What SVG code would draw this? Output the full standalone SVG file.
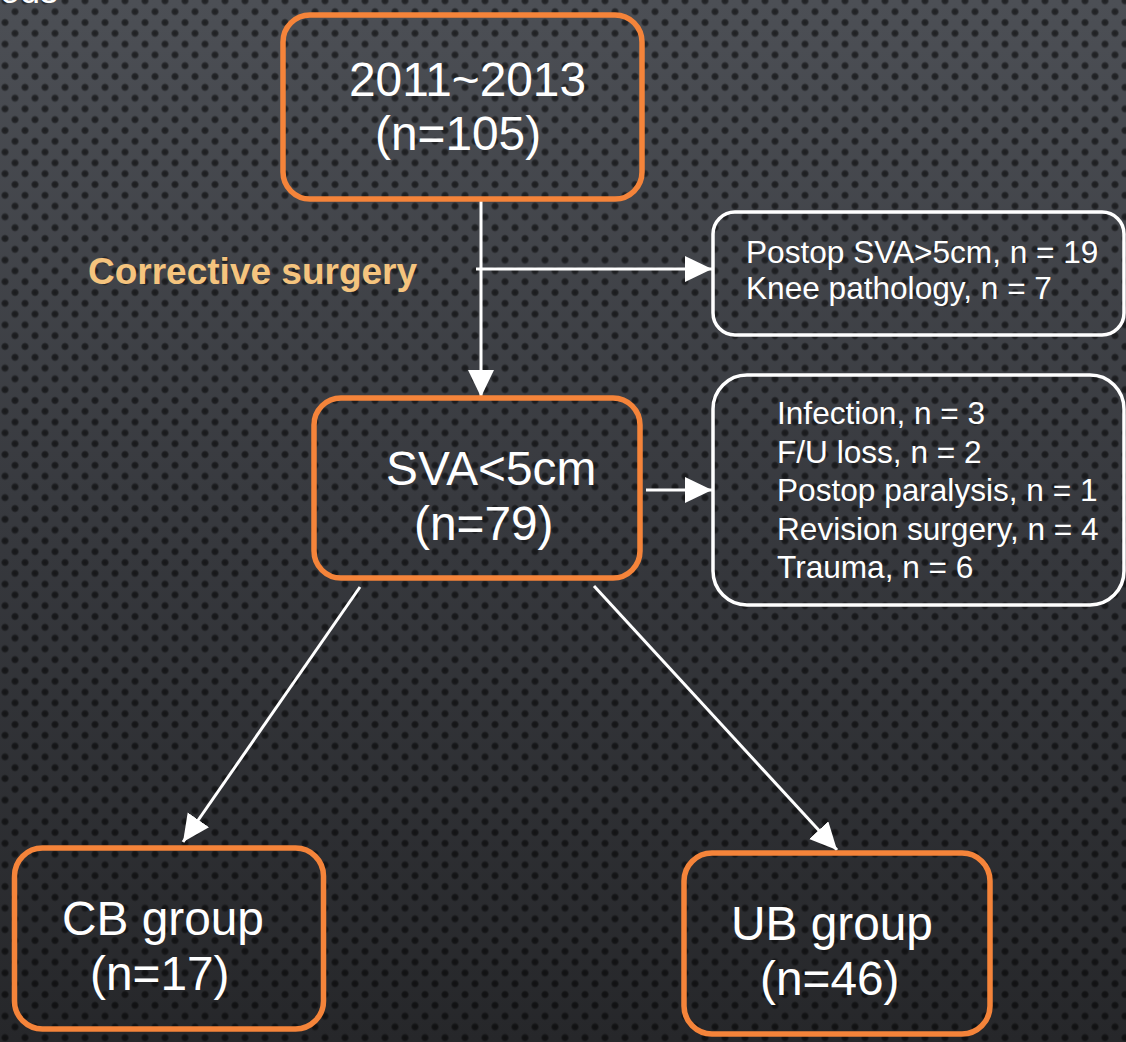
<svg xmlns="http://www.w3.org/2000/svg" width="1126" height="1042" viewBox="0 0 1126 1042">
<defs>
<linearGradient id="bg" x1="0" y1="0" x2="0" y2="1">
<stop offset="0" stop-color="#4c4f55"/>
<stop offset="0.5" stop-color="#37393e"/>
<stop offset="1" stop-color="#26272a"/>
</linearGradient>
<radialGradient id="dotg">
<stop offset="0" stop-color="#000" stop-opacity="0.6"/>
<stop offset="0.6" stop-color="#000" stop-opacity="0.5"/>
<stop offset="1" stop-color="#000" stop-opacity="0"/>
</radialGradient>
<pattern id="dots" patternUnits="userSpaceOnUse" x="0" y="-4.5" width="20" height="21.6">
<circle cx="5" cy="5.4" r="4.3" fill="url(#dotg)"/>
<circle cx="15" cy="16.2" r="4.3" fill="url(#dotg)"/>
<circle cx="5" cy="27" r="4.3" fill="url(#dotg)"/>
<circle cx="5" cy="-5.4" r="4.3" fill="url(#dotg)"/>
</pattern>
<marker id="arr" markerUnits="userSpaceOnUse" markerWidth="28" markerHeight="28" refX="27" refY="13" orient="auto">
<path d="M0,0 L27,13 L0,26 z" fill="#ffffff"/>
</marker>
<style>
.onode{fill:none;stroke:#f5843a;stroke-width:5.5}
.wnode{fill:none;stroke:#ffffff;stroke-width:3.5}
.big{font-family:"Liberation Sans",Arial,sans-serif;font-size:47.8px;fill:#ffffff}
.small{font-family:"Liberation Sans",Arial,sans-serif;font-size:31.6px;fill:#ffffff}
.lbl{font-family:"Liberation Sans",Arial,sans-serif;font-size:37px;font-weight:bold;fill:#f5c47e}
.conn{stroke:#ffffff;stroke-width:3;fill:none}
</style>
</defs>
<rect x="0" y="0" width="1126" height="1042" fill="url(#bg)"/>
<rect x="0" y="0" width="1126" height="1042" fill="url(#dots)"/>
<text x="58" y="3" text-anchor="end" font-family="'Liberation Sans',Arial,sans-serif" font-size="36" fill="#ffffff">Methods</text>

<g id="connectors">
<line class="conn" x1="481" y1="199" x2="481" y2="397" marker-end="url(#arr)"/>
<line class="conn" x1="476" y1="269" x2="712" y2="269" marker-end="url(#arr)"/>
<line class="conn" x1="646" y1="490" x2="712" y2="490" marker-end="url(#arr)"/>
<line class="conn" x1="360" y1="587" x2="183" y2="842" marker-end="url(#arr)"/>
<line class="conn" x1="594" y1="586" x2="837" y2="850" marker-end="url(#arr)"/>
<text class="lbl" x="88" y="284">Corrective surgery</text>
</g>

<g id="n_start">
<rect class="onode" x="283" y="15" width="359" height="184" rx="27"/>
<text class="big" x="349" y="96">2011~2013</text>
<text class="big" x="375" y="150">(n=105)</text>
</g>
<g id="n_sva">
<rect class="onode" x="314" y="398" width="326" height="180" rx="27"/>
<text class="big" x="386" y="485">SVA&lt;5cm</text>
<text class="big" x="414" y="540">(n=79)</text>
</g>
<g id="n_cb">
<rect class="onode" x="14.5" y="848" width="309" height="181" rx="28"/>
<text class="big" x="62" y="935">CB group</text>
<text class="big" x="90" y="990">(n=17)</text>
</g>
<g id="n_ub">
<rect class="onode" x="684" y="853" width="306" height="181" rx="28"/>
<text class="big" x="731" y="940">UB group</text>
<text class="big" x="760" y="995">(n=46)</text>
</g>
<g id="n_excl1">
<rect class="wnode" x="713" y="212" width="411" height="123" rx="22"/>
<text class="small" x="746" y="263">Postop SVA&gt;5cm, n = 19</text>
<text class="small" x="746" y="299">Knee pathology, n = 7</text>
</g>
<g id="n_excl2">
<rect class="wnode" x="713" y="375" width="411" height="230" rx="34"/>
<text class="small" x="777" y="424">Infection, n = 3</text>
<text class="small" x="777" y="463">F/U loss, n = 2</text>
<text class="small" x="777" y="501">Postop paralysis, n = 1</text>
<text class="small" x="777" y="540">Revision surgery, n = 4</text>
<text class="small" x="777" y="578">Trauma, n = 6</text>
</g>
</svg>
